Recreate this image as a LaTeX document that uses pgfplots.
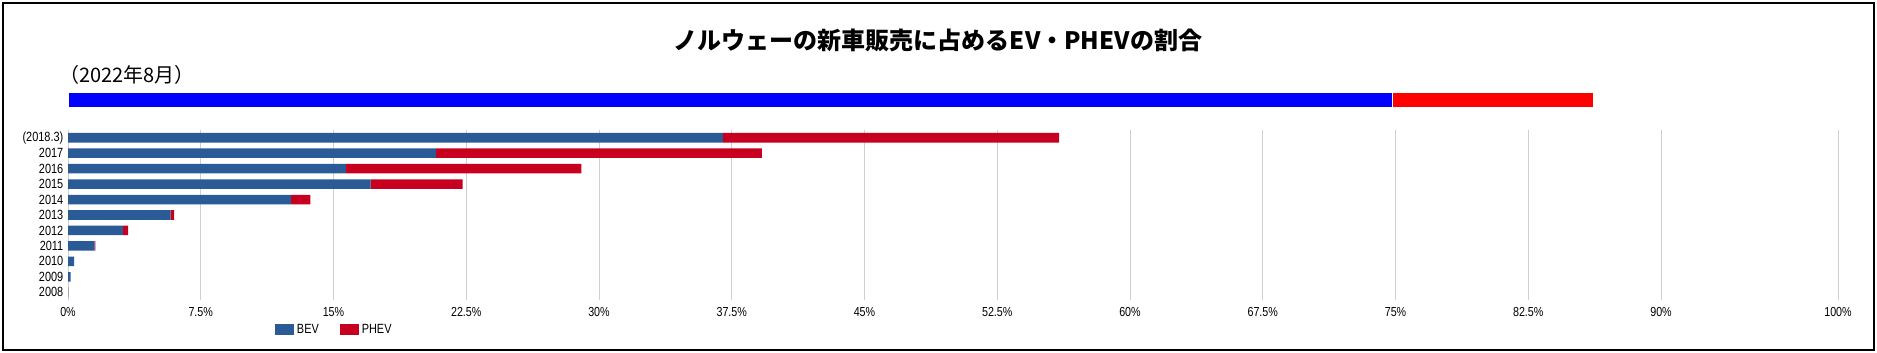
\documentclass[border=0pt]{standalone}
\usepackage{pgfplots}
\pgfplotsset{compat=1.18}
\usepackage{fontspec}
\setmainfont{Liberation Sans}
\newfontfamily\jpfont{Noto Sans CJK JP}
\newfontfamily\narrow[FakeStretch=0.82]{Liberation Sans}
\definecolor{bev}{HTML}{2A5B96}
\definecolor{phev}{HTML}{C8001F}
\definecolor{gridc}{HTML}{CFCFCF}

\begin{document}
\begin{tikzpicture}
\path[use as bounding box] (0pt,0pt) rectangle (1407.75pt,-264.75pt);
\draw[line width=1.5pt, black] (2.25pt,-2.25pt) rectangle (1405.5pt,-262.5pt);
\node[font=\jpfont\bfseries\fontsize{18}{20}\selectfont] at (703.5pt,-30pt) {ノルウェーの新車販売に占めるEV・PHEVの割合};
\node[anchor=west, inner sep=0pt, font=\jpfont\fontsize{15}{18}\selectfont] at (44.25pt,-56.3pt) {（2022年8月）};

% top bar (2022.8)
\begin{axis}[
  at={(51pt,-80.25pt)}, anchor=south west,
  width=1327.5pt, height=11pt, scale only axis,
  xmin=0, xmax=100, ymin=0, ymax=1,
  hide axis, xbar stacked, bar width=1,
]
\addplot[fill=blue, draw=white, line width=0.6pt] coordinates {(74.8,0.5)};
\addplot[fill=red, draw=white, line width=0.6pt] coordinates {(11.4,0.5)};
\end{axis}

% yearly chart
\begin{axis}[
  at={(51pt,-225pt)}, anchor=south west,
  width=1327.5pt, height=127.5pt, scale only axis,
  xmin=0, xmax=100, ymin=-0.5, ymax=10.5,
  xbar stacked, bar width=0.62,
  axis line style={draw=none},
  major tick length=0pt,
  xtick={0,7.5,15,22.5,30,37.5,45,52.5,60,67.5,75,82.5,90,100},
  xticklabels={0\%,7.5\%,15\%,22.5\%,30\%,37.5\%,45\%,52.5\%,60\%,67.5\%,75\%,82.5\%,90\%,100\%},
  ytick={0,1,2,3,4,5,6,7,8,9,10},
  yticklabels={2008,2009,2010,2011,2012,2013,2014,2015,2016,2017,(2018.3)},
  xmajorgrids, grid style={gridc, line width=0.75pt},
  xticklabel style={font=\narrow\fontsize{9.8}{11}\selectfont, yshift=-2pt},
  yticklabel style={font=\narrow\fontsize{10}{11}\selectfont},
  legend columns=2,
  legend style={at={(0.117,-0.176)}, anchor=west, draw=none, fill=none, inner sep=0pt,
    font=\narrow\fontsize{10}{11}\selectfont,
    /tikz/every even column/.append style={column sep=14pt}},
  legend image code/.code={\fill[#1] (0pt,-4.1pt) rectangle (14.2pt,4.1pt);},
]
\addplot[fill=bev, draw=none] coordinates {
(0.02,0) (0.15,1) (0.35,2) (1.5,3) (3.1,4) (5.8,5) (12.6,6) (17.1,7) (15.7,8) (20.8,9) (37.0,10)};
\addplot[fill=phev, draw=none] coordinates {
(0,0) (0,1) (0,2) (0.05,3) (0.3,4) (0.2,5) (1.1,6) (5.2,7) (13.3,8) (18.4,9) (19.0,10)};
\legend{BEV,PHEV}
\end{axis}
\end{tikzpicture}
\end{document}
